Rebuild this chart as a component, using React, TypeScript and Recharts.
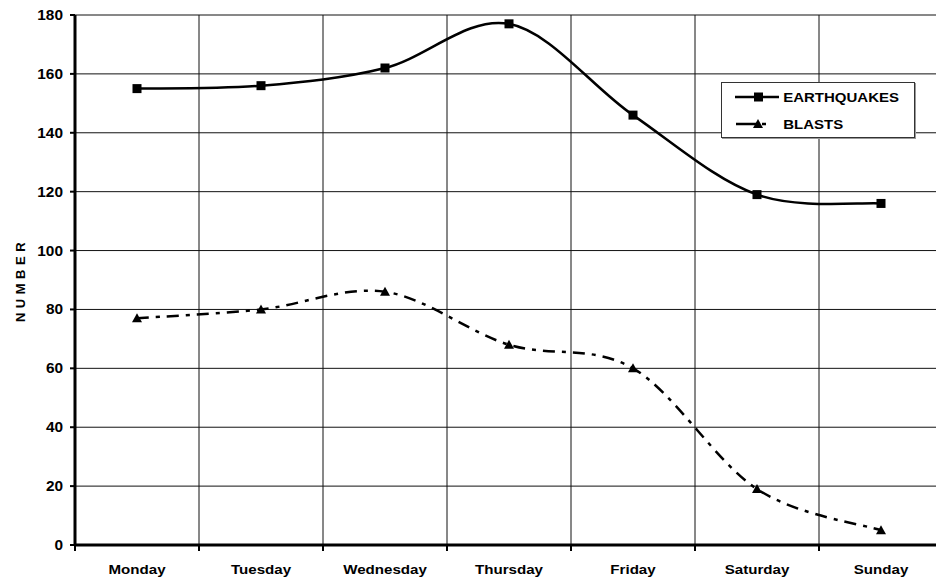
import React from "react";
import {
  LineChart,
  Line,
  XAxis,
  YAxis,
  CartesianGrid,
  Legend,
} from "recharts";

const days = ["Monday", "Tuesday", "Wednesday", "Thursday", "Friday", "Saturday", "Sunday"];
const earthquakes = [155, 156, 162, 177, 146, 119, 116];
const blasts = [77, 80, 86, 68, 60, 19, 5];
const yTicks = [0, 20, 40, 60, 80, 100, 120, 140, 160, 180];
// day boundaries (integers) and day centres (halves)
const edgeTicks = [0, 1, 2, 3, 4, 5, 6, 7];
const xTicks = [0, 0.5, 1, 1.5, 2, 2.5, 3, 3.5, 4, 4.5, 5, 5.5, 6, 6.5, 7];
const X_DOMAIN = 7;

const data = days.map((day, i) => ({
  day,
  slot: i + 0.5,
  earthquakes: earthquakes[i],
  blasts: blasts[i],
}));

const FONT = "'Liberation Sans', Arial, sans-serif";

// Excel-style smoothing (catmull-rom like, 1/6 tangents)
const excelSmooth = (context: any) => {
  let pts: number[][] = [];
  return {
    areaStart() {},
    areaEnd() {},
    lineStart() {
      pts = [];
    },
    point(x: number, y: number) {
      pts.push([+x, +y]);
    },
    lineEnd() {
      const n = pts.length;
      if (!n) return;
      context.moveTo(pts[0][0], pts[0][1]);
      for (let i = 0; i < n - 1; i++) {
        const p0 = pts[Math.max(i - 1, 0)];
        const p1 = pts[i];
        const p2 = pts[i + 1];
        const p3 = pts[Math.min(i + 2, n - 1)];
        context.bezierCurveTo(
          p1[0] + (p2[0] - p0[0]) / 6,
          p1[1] + (p2[1] - p0[1]) / 6,
          p2[0] - (p3[0] - p1[0]) / 6,
          p2[1] - (p3[1] - p1[1]) / 6,
          p2[0],
          p2[1]
        );
      }
    },
  };
};

const SquareDot = (props: any) => {
  const { cx, cy, index } = props;
  return <rect key={`sq-${index}`} x={cx - 4.5} y={cy - 4.5} width={9} height={9} fill="#000" />;
};

const TriangleDot = (props: any) => {
  const { cx, cy, index } = props;
  return (
    <polygon
      key={`tr-${index}`}
      points={`${cx},${cy - 5} ${cx + 5},${cy + 4} ${cx - 5},${cy + 4}`}
      fill="#000"
    />
  );
};

// integer values: boundary tick mark; half values: day name
const DayTick = (props: any) => {
  const { x, y, payload } = props;
  const v = payload.value;
  if (Number.isInteger(v)) {
    return <line x1={x} x2={x} y1={y - 6} y2={y} stroke="#000" strokeWidth={2} />;
  }
  return (
    <text
      transform={`translate(${x},${y + 23}) scale(1.12,1)`}
      textAnchor="middle"
      fontFamily={FONT}
      fontWeight="bold"
      fontSize={13.5}
      fill="#000"
    >
      {days[Math.floor(v)]}
    </text>
  );
};

const ValueTick = (props: any) => {
  const { x, y, payload } = props;
  return (
    <text
      transform={`translate(${x - 5},${y + 5}) scale(1.1,1)`}
      textAnchor="end"
      fontFamily={FONT}
      fontWeight="bold"
      fontSize={14}
      fill="#000"
    >
      {payload.value}
    </text>
  );
};

const YTitle = (props: any) => {
  const { viewBox } = props;
  const cx = viewBox.x + 10;
  const cy = viewBox.y + viewBox.height / 2;
  return (
    <text
      x={cx}
      y={cy}
      transform={`rotate(-90, ${cx}, ${cy})`}
      textAnchor="middle"
      fontFamily={FONT}
      fontWeight="bold"
      fontSize={13}
      letterSpacing={4.5}
      fill="#000"
    >
      NUMBER
    </text>
  );
};

const renderLegend = () => (
  <div
    style={{
      width: 194,
      height: 56,
      boxSizing: "border-box",
      border: "1px solid #333",
      background: "#fff",
      boxShadow: "1px 1px 0 #999",
      position: "relative",
    }}
  >
    <svg width={192} height={54} style={{ position: "absolute", left: 0, top: 0 }}>
      <line x1={13} y1={14} x2={57} y2={14} stroke="#000" strokeWidth={2.5} />
      <rect x={32} y={9.5} width={9} height={9} fill="#000" />
      <text x={61} y={19} fontFamily={FONT} fontWeight="bold" fontSize={12.5} fill="#000" transform="translate(-12,0) scale(1.2,1)">
        EARTHQUAKES
      </text>
      <line x1={14} y1={41} x2={47} y2={41} stroke="#000" strokeWidth={2.5} strokeDasharray="21 5 4 5" />
      <polygon points="36,36 41,45 31,45" fill="#000" />
      <text x={61} y={46} fontFamily={FONT} fontWeight="bold" fontSize={12.5} fill="#000" transform="translate(-12,0) scale(1.2,1)">
        BLASTS
      </text>
    </svg>
  </div>
);

export default function App() {
  return (
    <div
      style={{
        position: "absolute",
        left: 0,
        top: 0,
        width: 936,
        height: 580,
        overflow: "hidden",
        background: "#fff",
      }}
    >
      <LineChart
        width={960}
        height={580}
        data={data}
        margin={{ top: 15, right: 17, left: 15, bottom: 5 }}
      >
        <CartesianGrid
          stroke="#111"
          strokeWidth={1}
          horizontalValues={yTicks}
          verticalCoordinatesGenerator={({ xAxis, offset }: any) =>
            edgeTicks.map((v) =>
              xAxis && typeof xAxis.scale === "function"
                ? xAxis.scale(v)
                : offset.left + (v / X_DOMAIN) * offset.width
            )
          }
        />
        <XAxis
          dataKey="slot"
          type="number"
          domain={[0, X_DOMAIN]}
          ticks={xTicks}
          interval={0}
          height={30}
          tickSize={6}
          tickMargin={0}
          axisLine={{ stroke: "#000", strokeWidth: 3 }}
          tickLine={false}
          tick={<DayTick />}
        />
        <YAxis
          width={60}
          domain={[0, 180]}
          ticks={yTicks}
          interval={0}
          tickSize={5}
          axisLine={{ stroke: "#000", strokeWidth: 3 }}
          tickLine={{ stroke: "#000", strokeWidth: 2 }}
          tick={<ValueTick />}
          label={<YTitle />}
        />
        <Legend
          layout="horizontal"
          verticalAlign="middle"
          align="center"
          content={renderLegend}
          wrapperStyle={{ left: 721, top: 82, width: 194, height: 56 }}
        />
        <Line
          dataKey="earthquakes"
          type={excelSmooth as any}
          stroke="#000"
          strokeWidth={2.5}
          dot={SquareDot}
          activeDot={false}
          isAnimationActive={false}
        />
        <Line
          dataKey="blasts"
          type={excelSmooth as any}
          stroke="#000"
          strokeWidth={2.5}
          strokeDasharray="12 7 4 7"
          dot={TriangleDot}
          activeDot={false}
          isAnimationActive={false}
        />
      </LineChart>
    </div>
  );
}
